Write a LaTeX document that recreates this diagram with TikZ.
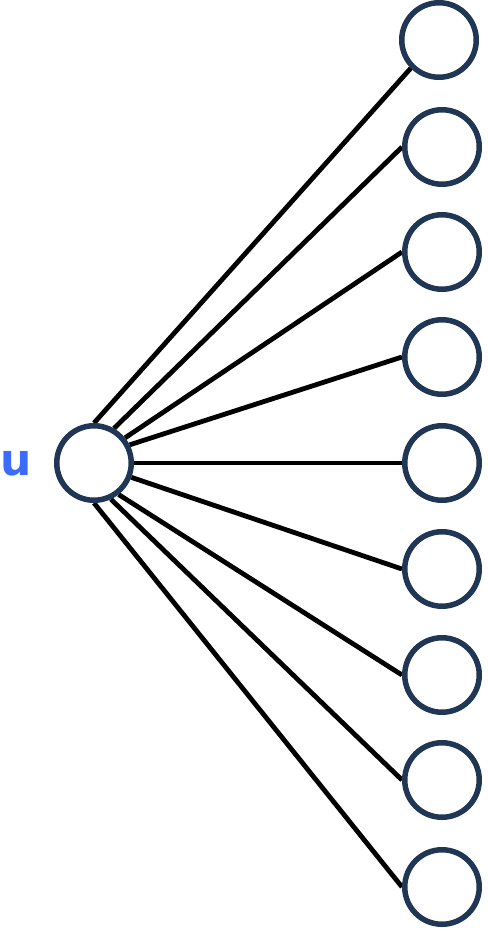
\documentclass[tikz,border=0pt]{standalone}
\usepackage{fontspec}
\newfontfamily\labelfont{DejaVu Sans}
\definecolor{navy}{HTML}{1F3654}
\definecolor{lblue}{HTML}{3B6CFF}
\begin{document}
\begin{tikzpicture}[x=1pt,y=-1pt,
  vert/.style={circle,draw=navy,fill=white,line width=5.5pt,minimum size=74.5pt,inner sep=0pt},
  edge/.style={line width=4.8pt,black}]
\useasboundingbox (0,0) rectangle (487,931);
\coordinate (uc) at (94,463);
\foreach \i/\y in {1/40,2/147,3/252,4/357,5/463,6/569,7/675,8/780,9/887}{
  \coordinate (c\i) at (442,\y);
}
\coordinate (c1) at (439,40);
% edges first (behind circles)
\node[vert,draw=none,fill=none] (u) at (uc) {};
\foreach \i in {1,...,9}{\node[vert,draw=none,fill=none] (r\i) at (c\i) {};}
\draw[edge] (u.90) -- (r1.225);
\draw[edge] (u.60) -- (r2.west);
\draw[edge] (u.39) -- (r3.west);
\draw[edge] (u.27) -- (r4.west);
\draw[edge] (u.0) -- (r5.west);
\draw[edge] (u.-21) -- (r6.west);
\draw[edge] (u.-52) -- (r7.west);
\draw[edge] (u.-65) -- (r8.west);
\draw[edge] (u.-90) -- (r9.west);
\node[vert] (uv) at (uc) {};
\foreach \i in {1,...,9}{\node[vert] (rv\i) at (c\i) {};}
\node[text=lblue,font=\labelfont\bfseries\fontsize{44}{44}\selectfont,inner sep=0pt,anchor=center] (ul) at (16,464) {u};
\end{tikzpicture}
\end{document}
